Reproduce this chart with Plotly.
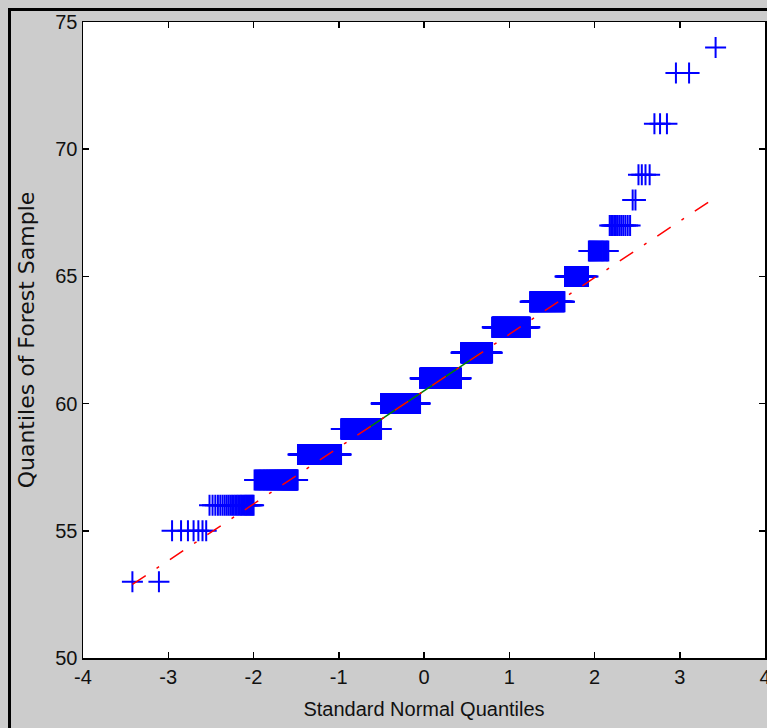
import numpy as np
import plotly.graph_objects as go
from statistics import NormalDist

# Sample values (integer levels) and how many observations sit at each level
levels = [53, 55, 56, 57, 58, 59, 60, 61, 62, 63, 64, 65, 66, 67, 68, 69, 71, 73, 74]
counts = [2, 7, 28, 74, 154, 227, 279, 298, 192, 168, 92, 36, 19, 12, 2, 4, 3, 2, 1]

x_ticks = [-4, -3, -2, -1, 0, 1, 2, 3, 4]
y_ticks = [50, 55, 60, 65, 70, 75]
x_title = "Standard Normal Quantiles"
y_title = "Quantiles of Forest Sample"

# Build the sample and its normal plotting positions (as in a QQ plot)
sample = np.sort(np.repeat(levels, counts)).astype(float)
n = len(sample)
nd = NormalDist()
theo = np.array([nd.inv_cdf((i - 0.5) / n) for i in range(1, n + 1)])

# Reference line through first and third quartiles
q1, q3 = np.percentile(sample, [25, 75])
z1, z3 = nd.inv_cdf(0.25), nd.inv_cdf(0.75)
slope = (q3 - q1) / (z3 - z1)
icpt = q1 - slope * z1
xe = np.array([theo.min(), theo.max()])
ye = icpt + slope * xe

FONT = "Liberation Sans, Arial, sans-serif"
TXT = "#111111"

fig = go.Figure()
fig.add_trace(go.Scatter(
    x=theo, y=sample, mode="markers",
    marker=dict(symbol="cross-thin", size=15, color="#0000ff",
                line=dict(color="#0000ff", width=2)),
    showlegend=False, hoverinfo="skip"))
fig.add_trace(go.Scatter(
    x=[z1, z3], y=[q1, q3], mode="lines",
    line=dict(color="rgb(0,128,0)", width=1.5),
    showlegend=False, hoverinfo="skip"))
fig.add_trace(go.Scatter(
    x=xe, y=ye, mode="lines",
    line=dict(color="#ff0000", width=1.5, dash="16px,13px,3px,13px"),
    showlegend=False, hoverinfo="skip"))

W, H = 767, 728
L, R, T, B = 83, 2, 22, 70
pw, ph = W - L - R, H - T - B

def px_to_paper_x(px):
    return (px - L) / pw

def px_to_paper_y(py):
    return (H - B - py) / ph

fig.add_shape(type="rect", xref="paper", yref="paper",
              x0=px_to_paper_x(9.5), x1=px_to_paper_x(800),
              y0=px_to_paper_y(760), y1=px_to_paper_y(9.5),
              line=dict(color="black", width=3), fillcolor="rgba(0,0,0,0)",
              layer="below")

axis_common = dict(
    showgrid=False, zeroline=False, showline=True, linecolor="black",
    linewidth=1.5, mirror="ticks", ticks="inside", ticklen=6,
    tickcolor="black", tickwidth=1.5, ticklabeloverflow="allow",
    automargin=False,
    tickfont=dict(family=FONT, size=20, color=TXT),
)

fig.update_layout(
    width=W, height=H,
    margin=dict(l=L, r=R, t=T, b=B, pad=0, autoexpand=False),
    paper_bgcolor="#cccccc", plot_bgcolor="white",
    xaxis=dict(range=[-4, 4], tickvals=x_ticks, ticktext=[str(v) for v in x_ticks],
               title=dict(text=x_title, font=dict(family=FONT, size=20, color=TXT),
                          standoff=15),
               **axis_common),
    yaxis=dict(range=[50, 75], tickvals=y_ticks, ticktext=[str(v) for v in y_ticks],
               title=dict(text=y_title,
                          font=dict(family="DejaVu Sans, sans-serif", size=22, color=TXT),
                          standoff=14),
               **axis_common),
)

fig.write_html(
    "out.html",
    config={"displayModeBar": False, "staticPlot": True},
    post_script="document.body.style.margin='0';document.body.style.background='#cccccc';",
)
